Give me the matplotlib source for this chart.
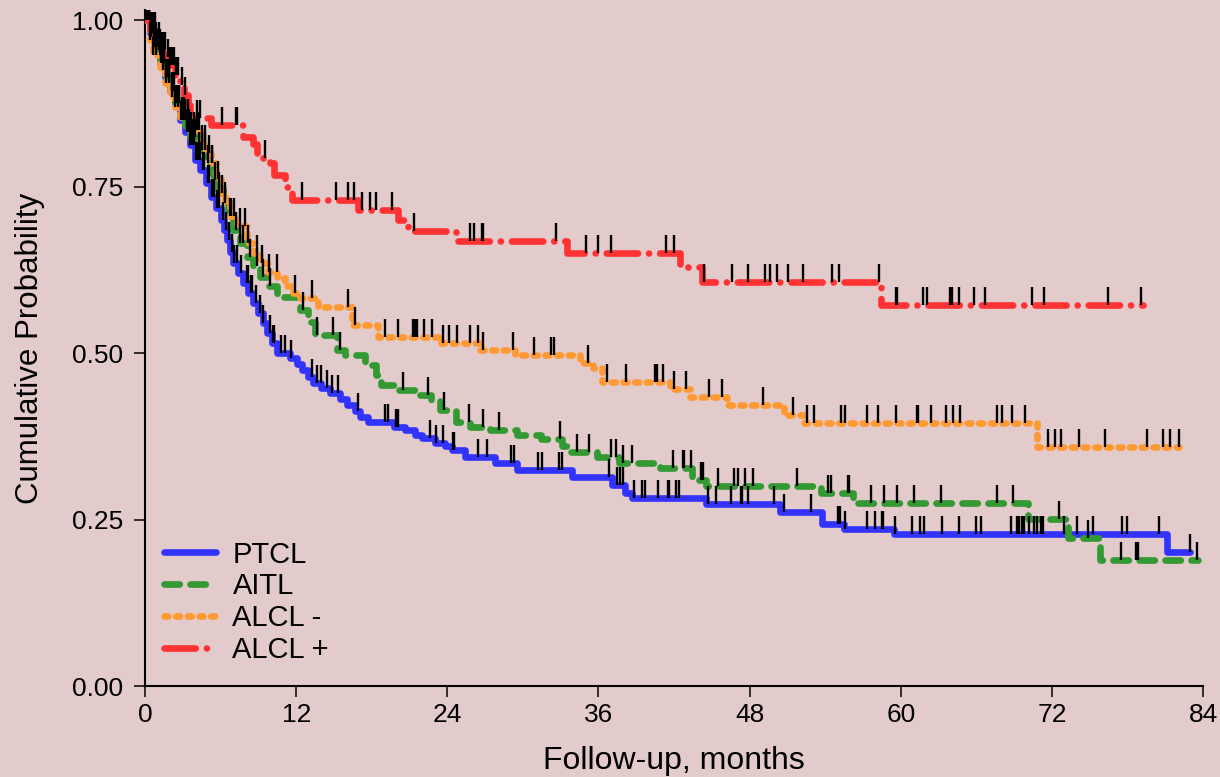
import numpy as np
import matplotlib
matplotlib.use("Agg")
import matplotlib.pyplot as plt
from matplotlib.path import Path

plt.rcParams['font.family'] = ['Liberation Sans', 'DejaVu Sans']

# Kaplan-Meier step points (months, survival), end of follow-up and censored times
ptcl_t = [0, 0.4, 0.8, 1.2, 1.6, 2.0, 2.4, 2.8, 3.2, 3.6, 4.0, 4.4, 4.8, 5.2, 5.6,
          6.0, 6.3, 6.5, 6.75, 7.0, 7.4, 7.8, 8.2, 8.6, 9.0, 9.4, 9.7, 10.1, 10.5,
          11.5, 12.1, 12.5, 12.9, 13.3, 14.0, 14.7, 15.5, 16.0, 16.7, 17.1, 17.7,
          19.8, 20.6, 21.4, 22.0, 23.0, 23.8, 24.4, 25.4, 27.8, 29.5, 33.9, 37.1,
          38.1, 38.7, 44.5, 50.4, 53.75, 55.5, 59.5, 81.1]
ptcl_s = [1.0, 0.98, 0.96, 0.94, 0.915, 0.893, 0.875, 0.850, 0.832, 0.812, 0.790,
          0.775, 0.755, 0.734, 0.717, 0.700, 0.685, 0.670, 0.652, 0.635, 0.620,
          0.605, 0.590, 0.575, 0.560, 0.545, 0.530, 0.515, 0.500, 0.492, 0.483,
          0.474, 0.464, 0.455, 0.447, 0.440, 0.431, 0.422, 0.413, 0.404, 0.396,
          0.389, 0.384, 0.377, 0.372, 0.365, 0.360, 0.354, 0.344, 0.335, 0.324,
          0.314, 0.302, 0.290, 0.282, 0.273, 0.261, 0.243, 0.236, 0.228, 0.201]
ptcl_end = 83.0
ptcl_cens = [0.1, 0.2, 0.35, 0.5, 0.65, 0.8, 0.9, 1.0, 1.15, 1.3, 1.4, 1.5, 1.65,
             1.8, 1.9, 2.1, 2.2, 2.4, 2.5, 2.7, 2.85, 3.0, 3.15, 3.3, 3.45, 3.6,
             3.75, 3.9, 4.05, 4.2, 4.35, 4.6, 4.7, 5.0, 5.1, 5.3, 5.45, 5.72, 5.9,
             6.19, 6.4, 6.67, 6.9, 7.07, 7.30, 7.6, 8.10, 8.18, 8.42, 8.5, 8.81,
             9.13, 9.4, 9.9, 10.16, 10.24, 10.80, 11.12, 11.59, 13.26, 13.66,
             13.97, 14.45, 14.85, 15.32, 16.91, 19.06, 19.29, 19.93, 20.01, 20.09,
             22.63, 23.10, 23.66, 24.45, 24.53, 26.44, 27.15, 29.06, 29.30, 31.20,
             31.52, 32.87, 33.11, 36.84, 37.48, 37.71, 37.95, 38.83, 39.46, 39.70,
             40.73, 41.52, 41.60, 42.16, 42.40, 44.70, 45.34, 46.53, 47.32, 47.40,
             47.88, 49.94, 50.73, 52.88, 55.05, 55.20, 55.58, 57.32, 57.96, 58.52,
             58.59, 59.55, 60.90, 61.53, 61.85, 63.28, 64.63, 65.98, 66.38, 68.76,
             69.23, 69.39, 69.63, 69.79, 70.19, 70.58, 70.82, 71.14, 71.22, 71.30,
             72.97, 74.00, 75.27, 77.57, 77.97, 80.51, 82.97]

aitl_t = [0, 0.4, 0.8, 1.2, 1.6, 2.0, 2.4, 2.8, 3.2, 3.6, 4.1, 4.8, 5.4, 5.8, 6.2,
          6.6, 7.0, 7.5, 8.1, 8.6, 9.1, 9.8, 10.5, 12.3, 12.9, 13.5, 15.2, 15.9,
          17.5, 18.3, 18.7, 19.9, 21.4, 22.7, 23.4, 24.7, 25.8, 27.4, 29.5, 31.4,
          33.1, 33.7, 35.9, 37.6, 40.9, 43.4, 44.5, 53.7, 56.2, 70.1, 73.3, 75.8]
aitl_s = [1.0, 0.975, 0.955, 0.935, 0.915, 0.895, 0.875, 0.858, 0.840, 0.825, 0.805,
          0.785, 0.760, 0.745, 0.730, 0.705, 0.685, 0.665, 0.644, 0.630, 0.614,
          0.600, 0.584, 0.565, 0.547, 0.527, 0.505, 0.497, 0.482, 0.467, 0.452,
          0.444, 0.437, 0.429, 0.414, 0.396, 0.389, 0.384, 0.377, 0.371, 0.360,
          0.351, 0.344, 0.335, 0.327, 0.309, 0.300, 0.290, 0.275, 0.251, 0.222, 0.189]
aitl_end = 83.6
aitl_cens = [0.15, 0.3, 0.5, 0.7, 0.9, 1.1, 1.3, 1.5, 1.7, 1.9, 2.1, 2.3, 2.5, 2.7,
             2.9, 3.1, 3.3, 3.5, 3.75, 4.0, 4.25, 4.5, 4.75, 5.0, 5.3, 5.56, 5.9,
             6.35, 6.8, 7.2, 7.54, 7.78, 8.3, 8.89, 9.4, 9.92, 12.54, 13.66, 14.93,
             15.48, 20.48, 22.47, 23.74, 25.72, 26.84, 28.11, 32.95, 34.30, 35.25,
             37.00, 37.40, 37.95, 38.67, 41.92, 42.71, 42.79, 43.35, 44.14, 44.30,
             45.49, 46.76, 47.08, 47.64, 48.27, 51.77, 54.23, 54.47, 55.82, 55.90,
             57.64, 58.67, 59.71, 61.06, 63.20, 67.65, 68.92, 72.57, 74.87, 77.49,
             78.68, 78.84, 83.53]

alclneg_t = [0, 0.4, 0.64, 1.2, 1.6, 2.0, 2.4, 2.8, 3.6, 4.4, 4.8, 5.2, 5.6, 6.0,
             6.35, 6.75, 7.3, 8.1, 8.6, 9.1, 9.8, 10.5, 11.1, 11.75, 12.3, 13.7,
             16.4, 18.5, 23.5, 26.6, 29.4, 34.5, 35.6, 36.3, 41.7, 43.3, 46.2,
             50.7, 52.3, 70.8]
alclneg_s = [1.0, 0.97, 0.947, 0.925, 0.905, 0.885, 0.870, 0.855, 0.835, 0.815,
             0.800, 0.785, 0.762, 0.740, 0.725, 0.705, 0.690, 0.665, 0.650, 0.635,
             0.622, 0.612, 0.600, 0.590, 0.583, 0.569, 0.542, 0.524, 0.515, 0.505,
             0.497, 0.485, 0.477, 0.456, 0.446, 0.434, 0.422, 0.407, 0.395, 0.359]
alclneg_end = 82.1
alclneg_cens = [0.2, 0.4, 0.65, 0.9, 1.15, 1.4, 1.65, 1.9, 2.15, 2.4, 2.65, 2.9,
                3.15, 3.4, 3.65, 3.9, 4.1, 4.3, 4.55, 4.76, 5.05, 5.32, 5.80, 6.1,
                6.35, 6.75, 7.1, 7.54, 7.9, 8.18, 8.89, 9.29, 9.85, 10.48, 11.91,
                13.26, 16.12, 16.67, 19.06, 20.09, 21.28, 21.44, 21.60, 22.15,
                22.79, 23.66, 24.14, 24.77, 25.80, 26.44, 26.84, 29.22, 30.89,
                32.24, 32.47, 35.17, 36.68, 38.19, 40.49, 40.65, 41.13, 42.00,
                42.95, 44.78, 45.81, 49.07, 51.45, 52.56, 53.12, 55.26, 55.58,
                57.32, 58.20, 59.63, 61.29, 61.37, 62.41, 63.60, 64.15, 64.71,
                67.65, 68.04, 68.84, 69.87, 71.70, 72.25, 72.73, 74.16, 76.22,
                79.56, 80.83, 81.38, 82.10]

alclpos_t = [0, 0.4, 0.8, 1.2, 1.6, 2.0, 2.4, 2.8, 3.1, 3.4, 3.6, 5.2, 7.8, 8.6,
             8.9, 9.9, 10.2, 11.1, 11.7, 16.9, 20.1, 20.9, 24.7, 33.5, 42.5, 44.2,
             58.4]
alclpos_s = [1.0, 0.985, 0.970, 0.955, 0.944, 0.932, 0.917, 0.902, 0.887, 0.872,
             0.853, 0.842, 0.824, 0.814, 0.793, 0.785, 0.767, 0.749, 0.730, 0.715,
             0.700, 0.683, 0.668, 0.650, 0.629, 0.607, 0.572]
alclpos_end = 79.2
alclpos_cens = [0.1, 0.3, 0.45, 0.6, 0.75, 0.9, 1.1, 1.3, 1.45, 1.59, 1.8, 2.0,
                2.14, 2.3, 2.46, 2.62, 2.9, 3.18, 4.13, 4.37, 6.11, 7.23, 7.30,
                9.53, 12.47, 15.16, 16.12, 16.59, 17.23, 17.86, 18.34, 19.61,
                21.36, 25.80, 26.12, 26.76, 26.84, 32.63, 35.01, 35.97, 37.00,
                41.37, 42.00, 44.38, 46.61, 47.88, 49.23, 49.62, 50.18, 51.05,
                52.24, 54.55, 55.10, 58.28, 59.63, 59.71, 61.77, 62.09, 63.91,
                64.07, 64.63, 65.82, 66.69, 70.42, 71.38, 76.46, 79.08]

groups = ['PTCL', 'AITL', 'ALCL -', 'ALCL +']
colors = ['#3333FF', '#339933', '#FF9933', '#FF3333']
styles = ['-', (0, (2.3, 1.6)), (0, (0.6, 1.15)), (0, (4.7, 1.65, 0.01, 1.65))]

bg = '#E3CBCB'
lw = 4.8

# short vertical tick rising from the curve
cens_marker = Path([(0, 0), (0, 1)])


def surv_at(t, s, times):
    t = np.asarray(t)
    s = np.asarray(s)
    idx = np.searchsorted(t, times, side='right') - 1
    return s[idx]


fig = plt.figure(figsize=(12.2, 7.77), dpi=100, facecolor=bg)
ax = fig.add_axes([0.1189, 0.1171, 0.8672, 0.870], facecolor=bg)

data = [(ptcl_t, ptcl_s, ptcl_end, ptcl_cens),
        (aitl_t, aitl_s, aitl_end, aitl_cens),
        (alclneg_t, alclneg_s, alclneg_end, alclneg_cens),
        (alclpos_t, alclpos_s, alclpos_end, alclpos_cens)]

handles = []
for i, (t, s, end, cens) in enumerate(data):
    tt = list(t) + [end]
    ss = list(s) + [s[-1]]
    ln, = ax.step(tt, ss, where='post', color=colors[i], lw=lw,
                  linestyle=styles[i], dash_capstyle='round',
                  solid_capstyle='round', zorder=2 + i, label=groups[i])
    handles.append(ln)

for i, (t, s, end, cens) in enumerate(data):
    ax.plot(cens, surv_at(t, s, cens), linestyle='none', marker=cens_marker,
            markersize=26, markeredgewidth=1.7, markeredgecolor='black',
            zorder=10)

ax.set_xlim(0, 84)
ax.set_ylim(0, 1.015)
ax.set_xticks(np.arange(0, 85, 12))
ax.set_yticks([0, 0.25, 0.5, 0.75, 1.0])
ax.set_yticklabels(['0.00', '0.25', '0.50', '0.75', '1.00'])
ax.tick_params(axis='both', direction='out', length=8, width=1.1, labelsize=19,
               colors='black')
ax.tick_params(axis='y', pad=8)
ax.tick_params(axis='x', pad=4)

for side in ['top', 'right']:
    ax.spines[side].set_visible(False)
for side in ['left', 'bottom']:
    ax.spines[side].set_linewidth(1.5)

ax.set_xlabel('Follow-up, months', fontsize=23, labelpad=14)
ax.set_ylabel('Cumulative Probability', fontsize=22.5, labelpad=19)

ax.legend(handles=handles, loc='lower left', bbox_to_anchor=(1.5, 0.033),
          bbox_transform=ax.transData, frameon=False, fontsize=21,
          handlelength=1.8, handletextpad=0.55, labelspacing=0.13,
          borderpad=0, borderaxespad=0)

fig.savefig('out.png', dpi=100, facecolor=bg)
